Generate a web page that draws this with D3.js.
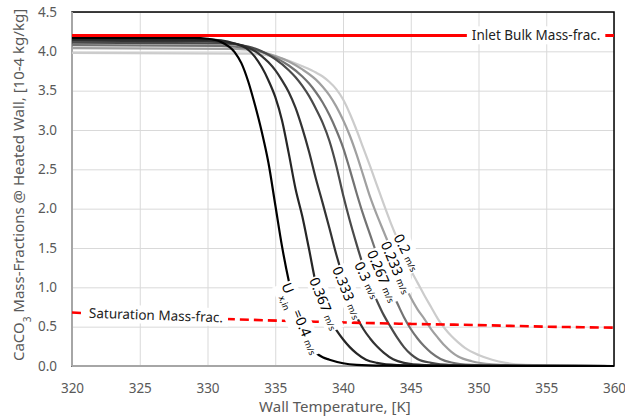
<!DOCTYPE html>
<html>
<head>
<meta charset="utf-8">
<script src="https://cdn.jsdelivr.net/npm/d3@7"></script>
<style>
body { margin: 0; background: #fff; }
svg text { font-family: "Noto Sans", "Open Sans", sans-serif; }
</style>
</head>
<body>
<svg id="chart" width="625" height="419"></svg>
<script>
// axis ticks
let xTicks = [320, 325, 330, 335, 340, 345, 350, 355, 360];
let yTicks = [0, 0.5, 1, 1.5, 2, 2.5, 3, 3.5, 4, 4.5];

// inlet velocities [m/s], one curve each
let velocities = ['0.4', '0.367', '0.333', '0.3', '0.267', '0.233', '0.2'];

// wall temperature [K] vs CaCO3 mass fraction at heated wall [1e-4 kg/kg]
let u0400 = [[320,4.17],[329,4.17],[330,4.16],[331,4.12],[332,3.99],[332.5,3.85],[333,3.62],[333.5,3.32],[334,2.98],[334.5,2.58],[335,2.05],[335.5,1.52],[336,1.08],[336.5,0.72],[337,0.46],[337.5,0.28],[338,0.17],[338.5,0.11],[339,0.08],[340,0.035],[341,0.015],[343,0.005],[347,0.001],[360,0]];
let u0367 = [[320,4.155],[330,4.15],[331,4.14],[332,4.1],[333,4.02],[333.5,3.93],[334,3.8],[334.5,3.63],[335,3.42],[335.5,3.12],[336,2.7],[336.5,2.25],[337,1.9],[337.5,1.48],[338,1.05],[338.5,0.78],[339,0.6],[339.5,0.46],[340,0.34],[340.5,0.24],[341,0.16],[341.7,0.08],[342.5,0.04],[344,0.012],[347,0.002],[360,0]];
let u0333 = [[320,4.135],[330,4.13],[332,4.1],[333,4.05],[334,3.94],[334.5,3.86],[335,3.76],[335.5,3.63],[336,3.48],[336.5,3.28],[337,3.02],[337.5,2.72],[338,2.38],[338.5,2.07],[339,1.75],[339.5,1.42],[340,1.13],[340.5,0.85],[341,0.63],[341.5,0.47],[342,0.35],[342.5,0.25],[343,0.17],[343.7,0.085],[344.5,0.04],[346,0.012],[349,0.002],[360,0]];
let u0300 = [[320,4.11],[331,4.1],[333,4.06],[334,4.0],[335,3.9],[336,3.76],[336.5,3.67],[337,3.56],[337.5,3.43],[338,3.27],[338.5,3.09],[339,2.86],[339.5,2.55],[340,2.18],[340.5,1.85],[341,1.55],[341.5,1.27],[342,1.03],[342.5,0.83],[343,0.65],[343.5,0.5],[344,0.36],[344.5,0.24],[345,0.15],[345.5,0.09],[346.5,0.04],[348,0.012],[351,0.002],[360,0]];
let u0267 = [[320,4.08],[331,4.07],[333,4.04],[335,3.92],[336,3.82],[337,3.68],[337.5,3.59],[338,3.48],[338.5,3.35],[339,3.19],[339.5,3.0],[340,2.78],[340.5,2.5],[341,2.2],[341.5,1.92],[342,1.67],[342.5,1.42],[343,1.2],[343.5,0.98],[344,0.8],[344.5,0.62],[345,0.47],[345.5,0.35],[346,0.25],[346.5,0.17],[347.2,0.09],[348,0.045],[349.5,0.015],[352,0.003],[360,0]];
let u0233 = [[320,4.04],[332,4.03],[334,3.99],[336,3.87],[337,3.77],[338,3.64],[338.5,3.55],[339,3.44],[339.5,3.3],[340,3.13],[340.5,2.93],[341,2.69],[341.5,2.42],[342,2.15],[342.5,1.92],[343,1.71],[343.5,1.5],[344,1.28],[344.5,1.05],[345,0.87],[345.5,0.72],[346,0.6],[346.5,0.47],[347,0.36],[347.5,0.26],[348,0.18],[348.5,0.12],[349.5,0.06],[351,0.02],[353,0.005],[360,0]];
let u0200 = [[320,3.98],[333,3.97],[335,3.93],[336,3.88],[337,3.81],[338,3.73],[338.5,3.68],[339,3.61],[339.5,3.52],[340,3.39],[340.5,3.21],[341,3.0],[341.5,2.77],[342,2.54],[342.5,2.3],[343,2.06],[343.5,1.83],[344,1.62],[344.5,1.42],[345,1.22],[345.5,1.06],[346,0.9],[346.5,0.75],[347,0.6],[347.5,0.48],[348,0.38],[348.5,0.3],[349,0.23],[350,0.14],[351,0.08],[352,0.04],[353.5,0.015],[356,0.003],[360,0]];

// reference levels
let inletMassFrac = [[320, 4.2], [360, 4.2]];
let saturationMassFrac = [[320, 0.68], [325, 0.64], [331, 0.6], [338, 0.563], [345, 0.535], [350, 0.52], [355, 0.5], [360, 0.487]];

let curves = [u0400, u0367, u0333, u0300, u0267, u0233, u0200];
let curveColors = ['#000000', '#262626', '#333333', '#4a4a4a', '#737373', '#a0a0a0', '#cccccc'];

// where the velocity labels sit on their curves: [T, value, angle]
let labelSpots = [[336.83, 0.6, 68], [338.6, 0.79, 68], [340.3, 0.93, 68], [341.77, 1.09, 64], [342.88, 1.14, 67], [343.9, 1.25, 67], [344.7, 1.44, 63]];

let svg = d3.select('#chart');

let x = d3.scaleLinear().domain([320, 360]).range([72, 614]);
let y = d3.scaleLinear().domain([0, 4.5]).range([366, 12]);

// grid + tick labels
let xAxis = svg.append('g')
    .attr('transform', 'translate(0,' + y(0) + ')')
    .call(d3.axisBottom(x)
        .tickValues(xTicks)
        .tickSize(-(y(0) - y(4.5)))
        .tickPadding(17)
        .tickFormat(d3.format('d')));
let yAxis = svg.append('g')
    .attr('transform', 'translate(' + x(320) + ',0)')
    .call(d3.axisLeft(y)
        .tickValues(yTicks)
        .tickSize(-(x(360) - x(320)))
        .tickPadding(15)
        .tickFormat(d3.format('.1f')));

[xAxis, yAxis].forEach(function(a) {
    a.select('.domain').remove();
    a.selectAll('line').attr('stroke', '#d9d9d9').attr('stroke-width', 1);
    a.selectAll('text')
        .attr('fill', '#595959')
        .style('font-size', '13.5px');
});

// plot border
svg.append('rect')
    .attr('x', x(320)).attr('y', y(4.5))
    .attr('width', x(360) - x(320)).attr('height', y(0) - y(4.5))
    .attr('fill', 'none')
    .attr('stroke', '#000')
    .attr('stroke-width', 1.5);
svg.append('line')
    .attr('x1', x(320)).attr('x2', x(320)).attr('y1', y(4.5)).attr('y2', y(0))
    .attr('stroke', '#a6a6a6').attr('stroke-width', 2);
svg.append('line')
    .attr('x1', x(320)).attr('x2', x(360)).attr('y1', y(0)).attr('y2', y(0))
    .attr('stroke', '#a6a6a6').attr('stroke-width', 2);

let line = d3.line()
    .x(function(d) { return x(d[0]); })
    .y(function(d) { return y(d[1]); })
    .curve(d3.curveMonotoneX);

// lightest first so the black curve ends up on top
svg.append('g')
    .selectAll('path')
    .data(curves.map(function(c, i) { return {values: c, color: curveColors[i]}; }).reverse())
    .enter()
    .append('path')
    .attr('d', function(d) { return line(d.values); })
    .attr('fill', 'none')
    .attr('stroke', function(d) { return d.color; })
    .attr('stroke-width', 2.2);

// inlet + saturation lines
svg.append('path')
    .attr('d', line(inletMassFrac))
    .attr('fill', 'none')
    .attr('stroke', '#ff0000')
    .attr('stroke-width', 3);
svg.append('path')
    .attr('d', line(saturationMassFrac))
    .attr('fill', 'none')
    .attr('stroke', '#ff0000')
    .attr('stroke-width', 2.6)
    .attr('stroke-dasharray', '9,5');

function boxed(g, pad) {
    let t = g.select('text');
    let b = t.node().getBBox();
    g.insert('rect', 'text')
        .attr('x', b.x - pad).attr('y', b.y)
        .attr('width', b.width + 2 * pad).attr('height', b.height)
        .attr('fill', '#fff');
}

let inletG = svg.append('g')
    .attr('transform', 'translate(' + x(354.25) + ',' + y(4.2) + ')');
inletG.append('text')
    .attr('text-anchor', 'middle')
    .attr('dy', '0.35em')
    .attr('fill', '#222')
    .style('font-size', '13.5px')
    .text('Inlet Bulk Mass-frac.');
boxed(inletG, 5);

let satG = svg.append('g')
    .attr('transform', 'translate(' + x(326.2) + ',' + (y(0.645)) + ') rotate(2)');
satG.append('text')
    .attr('text-anchor', 'middle')
    .attr('dy', '0.35em')
    .attr('fill', '#222')
    .style('font-size', '13.5px')
    .text('Saturation Mass-frac.');
boxed(satG, 5);

// velocity labels along the curves
velocities.forEach(function(v, i) {
    let s = labelSpots[i];
    let g = svg.append('g')
        .attr('transform', 'translate(' + x(s[0]) + ',' + y(s[1]) + ') rotate(' + s[2] + ')');
    let t = g.append('text')
        .attr('text-anchor', 'middle')
        .attr('dy', '0.35em')
        .attr('fill', '#000')
        .style('font-size', '14px');
    if (i == 0) {
        t.append('tspan').text('U');
        t.append('tspan').attr('baseline-shift', 'sub').style('font-size', '9px').text('x,in');
        t.append('tspan').text(' =' + v + ' ');
    } else {
        t.append('tspan').text(v + ' ');
    }
    t.append('tspan').style('font-size', '9px').text('m/s');
    boxed(g, 1);
});

// axis titles
svg.append('text')
    .attr('x', x(339.4))
    .attr('y', 412)
    .attr('text-anchor', 'middle')
    .attr('fill', '#595959')
    .style('font-size', '15px')
    .text('Wall Temperature, [K]');

let yTitle = svg.append('text')
    .attr('transform', 'translate(24,' + ((y(0) + y(4.5)) / 2 - 4) + ') rotate(-90)')
    .attr('text-anchor', 'middle')
    .attr('fill', '#595959')
    .style('font-size', '15px');
yTitle.append('tspan').text('CaCO');
yTitle.append('tspan').attr('baseline-shift', 'sub').style('font-size', '10px').text('3');
yTitle.append('tspan').text(' Mass-Fractions @ Heated Wall, [10-4 kg/kg]');
</script>
</body>
</html>
